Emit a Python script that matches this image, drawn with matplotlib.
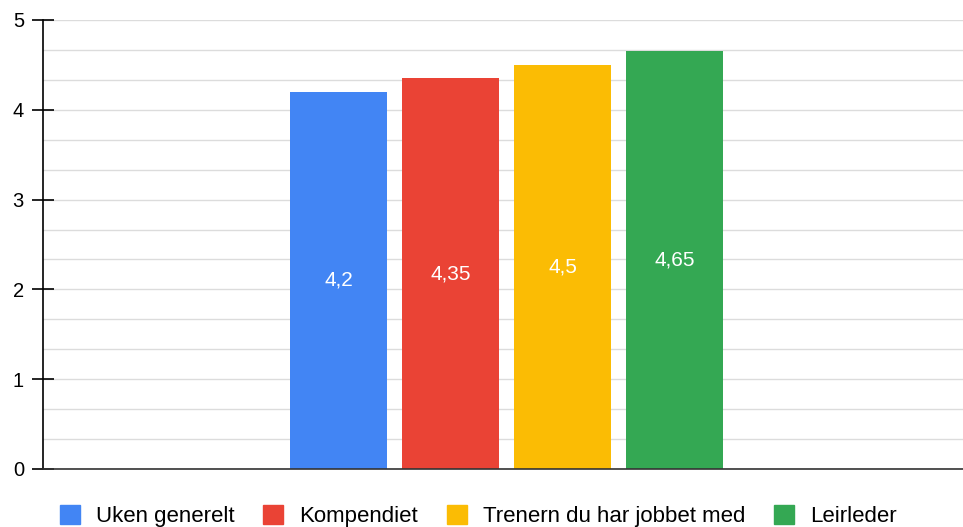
import matplotlib
matplotlib.use("Agg")
import matplotlib.pyplot as plt
from matplotlib.patches import Patch
import numpy as np

plt.rcParams['font.family'] = ['Liberation Sans', 'DejaVu Sans']

series = ["Uken generelt", "Kompendiet", "Trenern du har jobbet med", "Leirleder"]
values = [4.2, 4.35, 4.5, 4.65]
labels = ["4,2", "4,35", "4,5", "4,65"]
colors = ["#4285F4", "#EA4335", "#FBBC04", "#34A853"]
yticks = [0, 1, 2, 3, 4, 5]

fig = plt.figure(figsize=(9.63, 5.27), dpi=100)
ax = fig.add_axes([43/963, 1-469/527, 1-43/963, (469-20)/527])

x = np.arange(len(values))
width = 97/112
bars = ax.bar(x, values, width=width, color=colors, zorder=3)
for xi, v, lab in zip(x, values, labels):
    ax.text(xi, v/2, lab, ha='center', va='center', color='white', fontsize=15, zorder=4)

ax.set_xlim((43-338.5)/112, (963-338.5)/112)
ax.set_ylim(0, 5)
ax.set_yticks(yticks)
ax.set_yticklabels([str(t) for t in yticks], fontsize=14.5)
ax.set_yticks(np.arange(0, 5.001, 1/3), minor=True)
ax.tick_params(axis='y', which='major', direction='inout', length=15.5, width=1.2, color='black', pad=6)
ax.tick_params(axis='y', which='minor', length=0)
ax.set_xticks([])
ax.grid(axis='y', which='both', color='#dcdcdc', linewidth=1, zorder=0)
for s in ['top', 'right']:
    ax.spines[s].set_visible(False)
ax.spines['left'].set_color('black')
ax.spines['left'].set_linewidth(1.2)
ax.spines['bottom'].set_color('#333333')
ax.spines['bottom'].set_linewidth(1.2)
ax.spines['left'].set_zorder(5)
ax.spines['bottom'].set_zorder(5)

handles = [Patch(facecolor=c, edgecolor=c) for c in colors]
fig.legend(handles, series, loc='center', bbox_to_anchor=(478.5/963, 1 - 516/527), ncol=4,
           frameon=False, fontsize=16, handlelength=0.9, handleheight=0.9,
           columnspacing=1.3, handletextpad=0.72, borderpad=0, borderaxespad=0)

fig.savefig("out.png", dpi=100)
